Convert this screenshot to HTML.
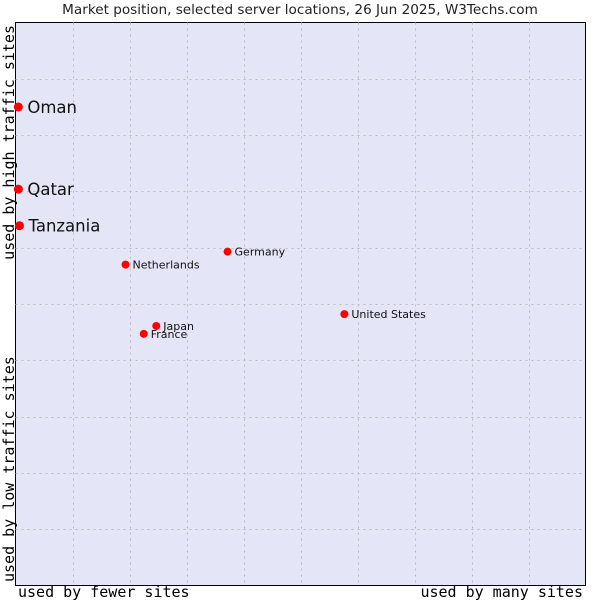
<!DOCTYPE html>
<html><head><meta charset="utf-8"><style>
body{margin:0;background:#fff;width:600px;height:600px;overflow:hidden}
svg{display:block}
</style></head><body>
<svg width="600" height="600" xmlns="http://www.w3.org/2000/svg">
<text x="300" y="14" text-anchor="middle" font-family="DejaVu Sans, sans-serif" font-size="13.6" fill="#222">Market position, selected server locations, 26 Jun 2025, W3Techs.com</text>
<rect x="15.5" y="22.5" width="570" height="563" fill="#e4e6f8" stroke="#000"/>
<g id="grid"></g>
<g id="pts"></g>
<text x="18" y="597" font-family="DejaVu Sans Mono, Liberation Mono, monospace" font-size="15" fill="#000">used by fewer sites</text>
<text x="583" y="597" text-anchor="end" font-family="DejaVu Sans Mono, Liberation Mono, monospace" font-size="15" fill="#000">used by many sites</text>
<text transform="translate(14,25) rotate(-90)" text-anchor="end" font-family="DejaVu Sans Mono, Liberation Mono, monospace" font-size="15" fill="#000">used by high traffic sites</text>
<text transform="translate(14,582) rotate(-90)" font-family="DejaVu Sans Mono, Liberation Mono, monospace" font-size="15" fill="#000">used by low traffic sites</text>
</svg>
<script>
const names=["Oman","Qatar","Tanzania","Netherlands","Germany","United States","Japan","France"];
const xVals=[0.5,0.5,0.7,19.3,37.2,57.7,24.7,22.5];
const yVals=[85.0,70.4,63.9,57.0,59.3,48.2,46.1,44.7];
const big=[true,true,true,false,false,false,false,false];
const NS="http://www.w3.org/2000/svg";
const X0=15.5,X1=585.5,Y0=585.5,Y1=22.5;
const sx=v=>X0+(X1-X0)*v/100, sy=v=>Y0-(Y0-Y1)*v/100;
const grid=document.getElementById('grid');
for(let i=1;i<10;i++){
  const lv=document.createElementNS(NS,'line');
  
  
  const x=Math.round(sx(i*10))+0.5;
  lv.setAttribute('x1',x);lv.setAttribute('x2',x);lv.setAttribute('y1',Y1);lv.setAttribute('y2',Y0);
  lv.setAttribute('stroke','#bbb');lv.setAttribute('stroke-dasharray','2,4');
  grid.appendChild(lv);
  const lh=document.createElementNS(NS,'line');
  
  
  const y=Math.round(sy(i*10))+0.5;
  lh.setAttribute('y1',y);lh.setAttribute('y2',y);lh.setAttribute('x1',X0);lh.setAttribute('x2',X1);
  lh.setAttribute('stroke','#bbb');lh.setAttribute('stroke-dasharray','2,4');
  grid.appendChild(lh);
}
const pts=document.getElementById('pts');
names.forEach((n,i)=>{
  const x=sx(xVals[i]),y=sy(yVals[i]);
  const c=document.createElementNS(NS,'circle');
  
  
  c.setAttribute('cx',x);c.setAttribute('cy',y);c.setAttribute('r',big[i]?4.5:4);c.setAttribute('fill','#f00');
  pts.appendChild(c);
  const t=document.createElementNS(NS,'text');
  
  
  t.setAttribute('x',x+(big[i]?9:7));t.setAttribute('y',y+(big[i]?6:4));
  t.setAttribute('font-family','DejaVu Sans, sans-serif');
  t.setAttribute('font-size',big[i]?16.5:11);t.setAttribute('fill','#111');
  t.textContent=n;
  pts.appendChild(t);
});
</script>
</body></html>
